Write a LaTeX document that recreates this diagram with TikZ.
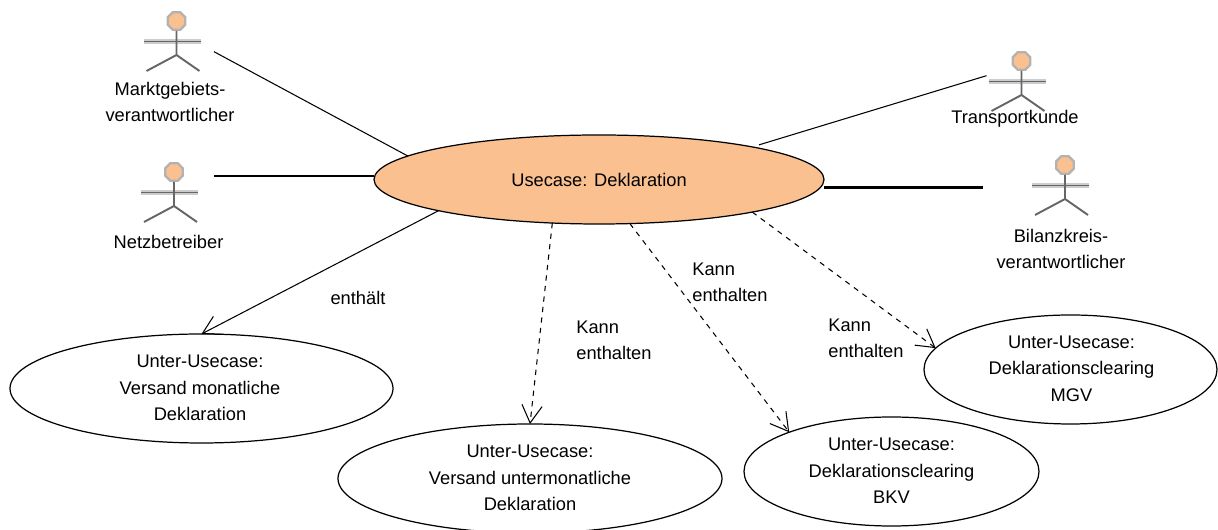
\documentclass[tikz,border=0pt]{standalone}
\usepackage{fontspec}
\setmainfont{Liberation Sans}
\usetikzlibrary{arrows.meta,shapes.geometric,calc}
\definecolor{caseorange}{HTML}{FAC090}

\tikzset{
	>={Straight Barb[length=10pt,width=11.5pt]},
	usecase/.style={ellipse,draw,line width=0.7pt,inner sep=0pt,outer sep=0pt},
	link/.style={line width=0.6pt},
	boldlink/.style={line width=1.2pt},
	lbl/.style={align=center,inner sep=0pt,font=\fontsize{10.4}{15}\selectfont},
	head/.style={regular polygon,regular polygon sides=8,fill=caseorange,draw=gray!60,line width=1.3pt,inner sep=0pt,minimum size=0.38cm}
}

% head node at the given position, limbs are drawn relative to it
\newcommand{\actor}[2]{
	\node[head] (#1) at (#2) {};
	\draw[gray!40,line width=3pt] ($(#1)+(-0.66,-0.41)$) -- ++(1.14,0);
	\draw[gray!80!black,line width=0.9pt] ($(#1)+(-0.66,-0.41)$) -- ++(1.14,0);
	\draw[gray!80!black,line width=1.1pt] (#1.south) -- ($(#1)+(0,-0.68)$) -- ($(#1)+(-0.6,-1.0)$);
	\draw[gray!80!black,line width=1.1pt] ($(#1)+(0,-0.68)$) -- ($(#1)+(0.46,-1.0)$);
}

\begin{document}
\begin{tikzpicture}
	\useasboundingbox (0,0) rectangle (24.36,10.6);

	\actor{markt}{3.53,10.18}
	\actor{netz}{3.48,7.16}
	\actor{transport}{20.43,9.38}
	\actor{bilanz}{21.3,7.3}

	\node[lbl] (lmarkt) at (3.4,8.56) {Marktgebiets-\\verantwortlicher};
	\node[lbl] (lnetz) at (3.37,5.76) {Netzbetreiber};
	\node[lbl] (ltransport) at (20.3,8.22) {Transportkunde};
	\node[lbl] (lbilanz) at (21.22,5.62) {Bilanzkreis-\\verantwortlicher};

	\node[usecase,fill=caseorange,minimum width=9cm,minimum height=1.78cm] (main) at (11.98,7.01) {};
	\node[lbl] (lmain) at (11.98,7) {Usecase: Deklaration};

	\node[usecase,minimum width=7.66cm,minimum height=2.18cm] (sub1) at (4.03,2.83) {};
	\node[usecase,minimum width=7.68cm,minimum height=2.18cm] (sub2) at (10.6,1.03) {};
	\node[usecase,minimum width=5.9cm,minimum height=2.18cm] (sub3) at (17.83,1.17) {};
	\node[usecase,minimum width=5.86cm,minimum height=2.18cm] (sub4) at (21.41,3.21) {};

	\node[lbl] (lsub1) at (4,2.84) {Unter-Usecase:\\Versand monatliche\\Deklaration};
	\node[lbl] (lsub2) at (10.6,1.04) {Unter-Usecase:\\Versand untermonatliche\\Deklaration};
	\node[lbl] (lsub3) at (17.83,1.18) {Unter-Usecase:\\Deklarationsclearing\\BKV};
	\node[lbl] (lsub4) at (21.43,3.23) {Unter-Usecase:\\Deklarationsclearing\\MGV};

	\coordinate (emarkt) at (4.28,9.566);
	\coordinate (enetz) at (4.28,7.086);
	\coordinate (etransport) at (19.73,9.086);
	\coordinate (ebilanz) at (19.66,6.85);

	\draw[link] (emarkt) -- (main.173.4);
	\draw[boldlink] (enetz) -- (main.west |- enetz);
	\draw[link,shorten >=4pt] (etransport) -- (main.12.56);
	\draw[boldlink] (ebilanz) -- (main.east |- ebilanz);

	\draw[link,->] (main.191.3) -- (sub1.north);
	\draw[link,->,dashed] (main.223.5) -- (sub2.north);
	\draw[link,->,dashed] (main.305.7) -- (sub3.159.1);
	\draw[link,->,dashed] (main.348.8) -- (sub4.171);

	\node[lbl] (lenth) at (7.16,4.64) {enthält};
	\node[lbl,align=left,anchor=west] (lkann1) at (11.52,3.8) {Kann\\enthalten};
	\node[lbl,align=left,anchor=west] (lkann2) at (13.84,4.96) {Kann\\enthalten};
	\node[lbl,align=left,anchor=west] (lkann3) at (16.56,3.84) {Kann\\enthalten};
\end{tikzpicture}
\end{document}
